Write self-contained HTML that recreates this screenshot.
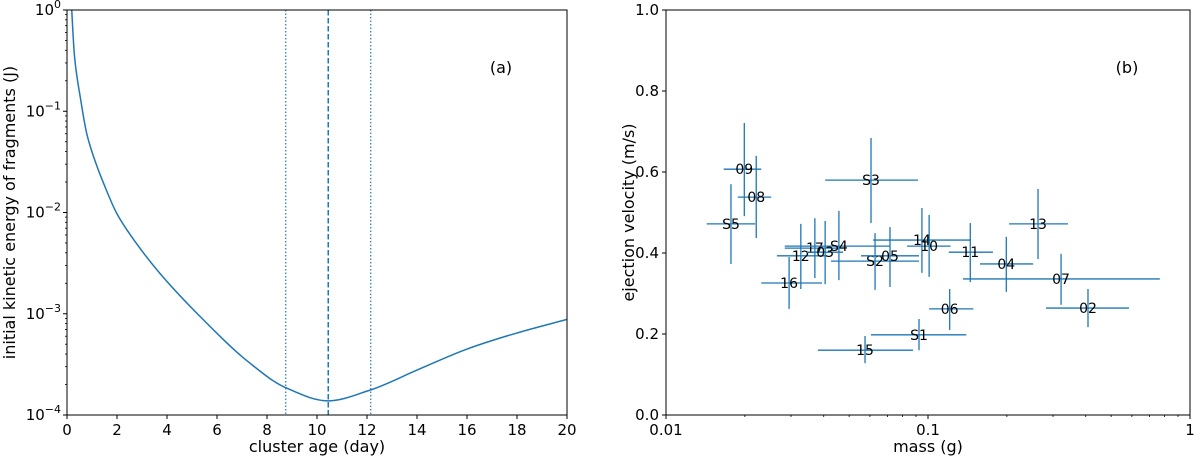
<!DOCTYPE html>
<html><head><meta charset="utf-8"><style>
body{margin:0;background:#fff;}
svg{display:block;font-family:"DejaVu Sans","Liberation Sans",sans-serif;}
</style></head><body>
<svg id="chart" width="1200" height="460"></svg>
<script>
// ---- Panel (a) data ----
const ageDays=[0.19,0.3,0.55,0.79,1.19,1.45,1.99,2.79,3.72,5.4,7.22,8.75,10.43,12.12,13.99,15.99,17.99,20];
const energyJ=[1.0,0.35,0.129,0.06,0.029,0.0198,0.0098,0.0049,0.0025,0.0009,0.00034,0.000186,0.000138,0.000176,0.000277,0.000447,0.000645,0.00088];
const vlineDotted=[8.75,12.15];
const vlineDashed=[10.45];
const xTicksA=[0,2,4,6,8,10,12,14,16,18,20];
const yExpA=[0,-1,-2,-3,-4];
// ---- Panel (b) data ----
const labelsB=["09","08","S5","S3","17","S4","12","03","16","S2","05","14","10","15","S1","06","11","04","13","07","02"];
const massG=[0.0199,0.0221,0.0177,0.0606,0.037,0.0457,0.0327,0.0405,0.0295,0.0628,0.0716,0.0948,0.101,0.0575,0.0924,0.121,0.145,0.199,0.263,0.322,0.408];
const massLo=[0.0166,0.0188,0.0143,0.0405,0.0284,0.0284,0.0265,0.0345,0.0231,0.0426,0.0555,0.0617,0.0832,0.038,0.0606,0.101,0.12,0.158,0.204,0.136,0.282];
const massHi=[0.0231,0.0252,0.0219,0.0916,0.0478,0.0716,0.0412,0.0474,0.0394,0.0924,0.0924,0.146,0.122,0.0877,0.14,0.149,0.177,0.252,0.342,0.767,0.585];
const velMS=[0.607,0.538,0.472,0.58,0.412,0.417,0.393,0.402,0.326,0.38,0.393,0.432,0.417,0.16,0.198,0.262,0.402,0.373,0.472,0.336,0.264];
const velLo=[0.491,0.437,0.373,0.474,0.338,0.333,0.311,0.323,0.262,0.309,0.316,0.351,0.341,0.128,0.16,0.21,0.328,0.304,0.385,0.272,0.217];
const velHi=[0.721,0.64,0.57,0.684,0.486,0.504,0.472,0.479,0.39,0.449,0.464,0.511,0.494,0.195,0.237,0.311,0.474,0.44,0.558,0.398,0.311];
const xTickLabelsB=["0.01","0.1","1"];
const yTicksB=[0,0.2,0.4,0.6,0.8,1.0];

const NS="http://www.w3.org/2000/svg";
const svg=document.getElementById('chart');
const C="#1f77b4";
function mk(tag,attrs,parent){const e=document.createElementNS(NS,tag);for(const k in attrs)e.setAttribute(k,attrs[k]);(parent||svg).appendChild(e);return e;}

const A={l:67,r:567,t:10,b:415};
const xA=v=>A.l+(v-0)/20*(A.r-A.l);
const yA=v=>A.t+(-Math.log10(v))/4*(A.b-A.t);
const B={l:666,r:1190,t:10,b:415};
const xB=v=>B.l+(Math.log10(v)+2)/2*(B.r-B.l);
const yB=v=>B.b-v*(B.b-B.t);

const gA=mk('g',{});


const gB=mk('g',{});



const clip=mk('clipPath',{id:'clipA'});mk('rect',{x:A.l,y:A.t,width:A.r-A.l,height:A.b-A.t},clip);
// monotone cubic (Fritsch-Carlson) through points in pixel space
const pts=ageDays.map((t,i)=>[xA(t),yA(energyJ[i])]);
pts.unshift([xA(ageDays[0])-0.4,A.t-8]);
const n=pts.length,dx=[],sl=[],m=[];
for(let i=0;i<n-1;i++){dx[i]=pts[i+1][0]-pts[i][0];sl[i]=(pts[i+1][1]-pts[i][1])/dx[i];}
m[0]=sl[0];m[n-1]=sl[n-2];
for(let i=1;i<n-1;i++){ if(sl[i-1]*sl[i]<=0) m[i]=0; else { const w1=2*dx[i]+dx[i-1],w2=dx[i]+2*dx[i-1]; m[i]=(w1+w2)/(w1/sl[i-1]+w2/sl[i]); } }
let d=`M${pts[0][0]},${pts[0][1]}`;
for(let i=0;i<n-1;i++){
 const h=dx[i];
 d+=` C${pts[i][0]+h/3},${pts[i][1]+m[i]*h/3} ${pts[i+1][0]-h/3},${pts[i+1][1]-m[i+1]*h/3} ${pts[i+1][0]},${pts[i+1][1]}`;
}
const curve=mk('path',{d:d,fill:'none',stroke:C,'stroke-width':1.5,'clip-path':'url(#clipA)'},gA);


vlineDotted.forEach(v=>{const l=mk('line',{x1:xA(v),x2:xA(v),y1:A.t,y2:A.b,stroke:C,'stroke-width':1.2,'stroke-dasharray':'1.5,2'},gA);

});
vlineDashed.forEach(v=>{const l=mk('line',{x1:xA(v),x2:xA(v),y1:A.t,y2:A.b,stroke:C,'stroke-width':1.5,'stroke-dasharray':'5.5,2.5'},gA);

});
const fA=mk('rect',{x:A.l,y:A.t,width:A.r-A.l,height:A.b-A.t,fill:'none',stroke:'#000','stroke-width':1},gA);


xTicksA.forEach(v=>{mk('line',{x1:xA(v),x2:xA(v),y1:A.b,y2:A.b+4,stroke:'#000'},gA);
const t=mk('text',{x:xA(v),y:A.b+20,'text-anchor':'middle','font-size':15},gA);t.textContent=v;

});
yExpA.forEach(e=>{const y=yA(Math.pow(10,e));mk('line',{x1:A.l-4,x2:A.l,y1:y,y2:y,stroke:'#000'},gA);
const t=mk('text',{x:A.l-6,y:y+5,'text-anchor':'end','font-size':15},gA);
t.innerHTML=`10<tspan dy="-7" font-size="11">${e===0?'0':'\u2212'+(-e)}</tspan>`;


if(e>-4){for(let k=2;k<10;k++){const yy=yA(k*Math.pow(10,e-1));mk('line',{x1:A.l-2,x2:A.l,y1:yy,y2:yy,stroke:'#000','stroke-width':0.8},gA);}}});
let t=mk('text',{x:(A.l+A.r)/2,y:452,'text-anchor':'middle','font-size':16},gA);t.textContent='cluster age (day)';


t=mk('text',{x:0,y:0,transform:`translate(15,${(A.t+A.b)/2}) rotate(-90)`,'text-anchor':'middle','font-size':16},gA);t.textContent='initial kinetic energy of fragments (J)';


t=mk('text',{x:501,y:73,'text-anchor':'middle','font-size':16},gA);t.textContent='(a)';



labelsB.forEach((lab,i)=>{
 const g=mk('g',{},gB);
 
 
 mk('line',{x1:xB(massLo[i]),x2:xB(massHi[i]),y1:yB(velMS[i]),y2:yB(velMS[i]),stroke:C,'stroke-width':1.3},g);
 mk('line',{x1:xB(massG[i]),x2:xB(massG[i]),y1:yB(velLo[i]),y2:yB(velHi[i]),stroke:C,'stroke-width':1.3},g);
 const tt=mk('text',{x:xB(massG[i]),y:yB(velMS[i])+5,'text-anchor':'middle','font-size':14},g);tt.textContent=lab;
});
const fB=mk('rect',{x:B.l,y:B.t,width:B.r-B.l,height:B.b-B.t,fill:'none',stroke:'#000','stroke-width':1},gB);


xTickLabelsB.forEach(s=>{const v=parseFloat(s);const x=xB(v);mk('line',{x1:x,x2:x,y1:B.b,y2:B.b+4,stroke:'#000'},gB);
const tt=mk('text',{x:x,y:B.b+20,'text-anchor':'middle','font-size':15},gB);tt.textContent=s;


if(v<1){for(let k=2;k<10;k++){const xx=xB(k*v);mk('line',{x1:xx,x2:xx,y1:B.b,y2:B.b+2,stroke:'#000','stroke-width':0.8},gB);}}});
yTicksB.forEach(v=>{const y=yB(v);mk('line',{x1:B.l-4,x2:B.l,y1:y,y2:y,stroke:'#000'},gB);
const tt=mk('text',{x:B.l-7,y:y+5,'text-anchor':'end','font-size':15},gB);tt.textContent=v.toFixed(1);

});
t=mk('text',{x:(B.l+B.r)/2,y:452,'text-anchor':'middle','font-size':16},gB);t.textContent='mass (g)';


t=mk('text',{x:0,y:0,transform:`translate(634,${(B.t+B.b)/2}) rotate(-90)`,'text-anchor':'middle','font-size':16},gB);t.textContent='ejection velocity (m/s)';


t=mk('text',{x:1127,y:73,'text-anchor':'middle','font-size':16},gB);t.textContent='(b)';


</script>
</body></html>
